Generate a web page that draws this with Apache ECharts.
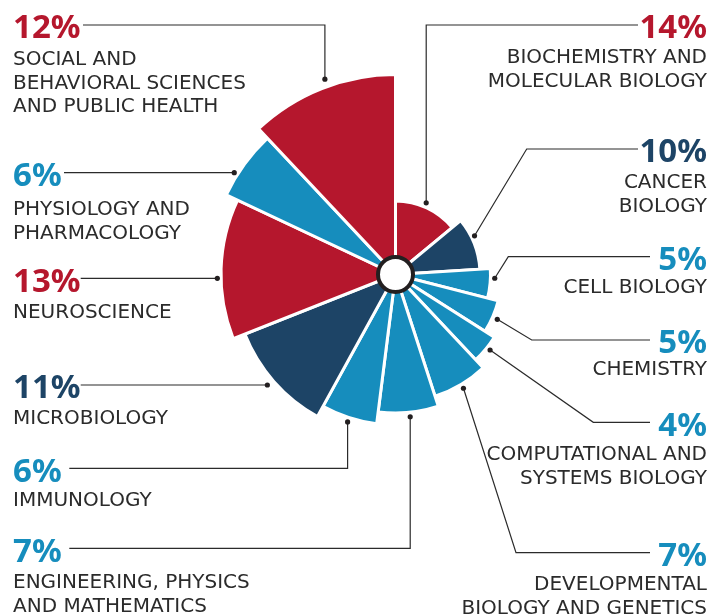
<!DOCTYPE html>
<html>
<head>
<meta charset="utf-8">
<script src="https://cdn.jsdelivr.net/npm/echarts@6/dist/echarts.min.js"></script>
<style>
  html, body { margin: 0; padding: 0; background: #ffffff; }
  #chart { width: 726px; height: 616px; }
</style>
</head>
<body>
<div id="chart"></div>
<script>
// Research areas, listed clockwise from 12 o'clock
const categories = [
  'BIOCHEMISTRY AND\nMOLECULAR BIOLOGY',
  'CANCER\nBIOLOGY',
  'CELL BIOLOGY',
  'CHEMISTRY',
  'COMPUTATIONAL AND\nSYSTEMS BIOLOGY',
  'DEVELOPMENTAL\nBIOLOGY AND GENETICS',
  'ENGINEERING, PHYSICS\nAND MATHEMATICS',
  'IMMUNOLOGY',
  'MICROBIOLOGY',
  'NEUROSCIENCE',
  'PHYSIOLOGY AND\nPHARMACOLOGY',
  'SOCIAL AND\nBEHAVIORAL SCIENCES\nAND PUBLIC HEALTH'
];

// Share of the total in percent: sets the angle of each petal
const shares = [14, 10, 5, 5, 4, 7, 7, 6, 11, 13, 6, 12];

// Petal length on the radial scale
const petalReach = [73.5, 84.5, 95, 106, 117, 128, 138.5, 150.5, 162, 174.5, 187, 200];

// Colour family of each petal
const groups = ['red', 'navy', 'blue', 'blue', 'blue', 'blue', 'blue', 'blue', 'navy', 'red', 'blue', 'red'];

const palette = { red: '#b5172d', navy: '#1d4466', blue: '#168dbd' };
const inkColor = '#2b2b2b';

// Callout layout: side of the page, height of the leader line, where the
// line stops next to the figure, leader shape, and where it meets the petal
const callouts = [
  { side: 'right', lineY: 25,    tailX: 638, kind: 'drop', frac: 0.46, gap: 4.5, capY: 58 },
  { side: 'right', lineY: 149,   tailX: 638, kind: 'bend', elbowX: 526.7, frac: 0.375, gap: 3.5, capY: 183 },
  { side: 'right', lineY: 256.7, tailX: 650, kind: 'bend', elbowX: 508.3, frac: 0.32, gap: 4.3, capY: 288 },
  { side: 'right', lineY: 340,   tailX: 650, kind: 'bend', elbowX: 531.7, frac: 0.52, gap: 5.2, capY: 370 },
  { side: 'right', lineY: 422.3, tailX: 650, kind: 'bend', elbowX: 593.3, frac: 0.43, gap: 4,   capY: 455 },
  { side: 'right', lineY: 552.7, tailX: 650, kind: 'bend', elbowX: 516,   frac: 0.49, gap: 4.5, capY: 585 },
  { side: 'left',  lineY: 548.3, tailX: 69.3, kind: 'drop', frac: 0.48, gap: 4.5, capY: 583 },
  { side: 'left',  lineY: 468.3, tailX: 69.3, kind: 'drop', frac: 0.5,  gap: 4.5, capY: 501 },
  { side: 'left',  lineY: 385,   tailX: 80.7, kind: 'flat', gap: 7.2, capY: 419 },
  { side: 'left',  lineY: 278.3, tailX: 80.7, kind: 'flat', gap: 3.7, capY: 313 },
  { side: 'left',  lineY: 172.7, tailX: 64,   kind: 'flat', gap: 3.7, capY: 210 },
  { side: 'left',  lineY: 25,    tailX: 83,   kind: 'drop', frac: 0.54, gap: 7.7, capY: 60 }
];

// Each petal spans [cumulative start, cumulative end] on the 0–100 angle axis
let running = 0;
const petals = shares.map(function (s, i) {
  const start = running;
  running += s;
  return {
    name: categories[i],
    value: [start, running, petalReach[i]],
    itemStyle: { color: palette[groups[i]] }
  };
});

const chart = echarts.init(document.getElementById('chart'), null, { renderer: 'canvas' });

function screenAngle(cs, p) {
  return Math.atan2(p[1] - cs.cy, p[0] - cs.cx);
}

function renderPetal(params, api) {
  const cs = params.coordSys;
  const a0 = api.value(0), a1 = api.value(1), reach = api.value(2);
  const p0 = api.coord([reach, a0]);
  const p1 = api.coord([reach, a1]);
  const r = Math.hypot(p0[0] - cs.cx, p0[1] - cs.cy);
  const t0 = screenAngle(cs, p0);
  let t1 = screenAngle(cs, p1);
  if (t1 <= t0) t1 += Math.PI * 2;
  return {
    type: 'sector',
    shape: { cx: cs.cx, cy: cs.cy, r0: 0, r: r, startAngle: t0, endAngle: t1, clockwise: true },
    style: { fill: api.visual('color'), stroke: '#ffffff', lineWidth: 3 }
  };
}

function renderHub(params, api) {
  const cs = params.coordSys;
  return {
    type: 'circle',
    shape: { cx: cs.cx, cy: cs.cy, r: 17.5 },
    style: { fill: '#ffffff', stroke: '#231f20', lineWidth: 4 }
  };
}

function renderCallout(params, api) {
  const i = params.dataIndex;
  const c = callouts[i];
  const cs = params.coordSys;
  const a0 = api.value(0), a1 = api.value(1), reach = api.value(2);
  const isLeft = c.side === 'left';
  let dot;
  if (c.kind === 'flat') {
    const edge = api.coord([reach, a0]);
    const R = Math.hypot(edge[0] - cs.cx, edge[1] - cs.cy) + c.gap;
    const dy = c.lineY - cs.cy;
    const dx = Math.sqrt(Math.max(R * R - dy * dy, 0)) * (isLeft ? -1 : 1);
    dot = [cs.cx + dx, c.lineY];
  } else {
    const p = api.coord([reach, a0 + c.frac * (a1 - a0)]);
    const vx = p[0] - cs.cx, vy = p[1] - cs.cy, len = Math.hypot(vx, vy);
    dot = [p[0] + vx / len * c.gap, p[1] + vy / len * c.gap];
  }
  let pts;
  if (c.kind === 'drop') pts = [[c.tailX, c.lineY], [dot[0], c.lineY], dot];
  else if (c.kind === 'bend') pts = [[c.tailX, c.lineY], [c.elbowX, c.lineY], dot];
  else pts = [[c.tailX, c.lineY], dot];

  const tx = isLeft ? 13 : 707;
  const lineH = 23.5;
  return {
    type: 'group',
    children: [
      {
        type: 'polyline',
        shape: { points: pts },
        style: { stroke: inkColor, lineWidth: 1.2, fill: null }
      },
      {
        type: 'circle',
        shape: { cx: dot[0], cy: dot[1], r: 2.6 },
        style: { fill: '#231f20' }
      },
      {
        type: 'text',
        x: tx,
        y: c.lineY + 4,
        style: {
          text: shares[i] + '%',
          fill: palette[groups[i]],
          fontFamily: '"Noto Sans", sans-serif',
          fontWeight: 'bold',
          fontSize: 33,
          align: isLeft ? 'left' : 'right',
          verticalAlign: 'middle'
        }
      },
      {
        type: 'text',
        x: tx,
        y: c.capY - lineH / 2,
        style: {
          text: categories[i],
          fill: inkColor,
          fontFamily: '"DejaVu Sans", sans-serif',
          fontSize: 20,
          lineHeight: lineH,
          align: isLeft ? 'left' : 'right',
          verticalAlign: 'top'
        }
      }
    ]
  };
}

chart.setOption({
  animation: false,
  backgroundColor: '#ffffff',
  polar: { center: [395.5, 274.5], radius: 200 },
  angleAxis: { type: 'value', min: 0, max: 100, startAngle: 90, clockwise: true, show: false },
  radiusAxis: { type: 'value', min: 0, max: 200, show: false },
  series: [
    {
      type: 'custom',
      name: 'petals',
      coordinateSystem: 'polar',
      renderItem: renderPetal,
      data: petals,
      z: 2
    },
    {
      type: 'custom',
      name: 'hub',
      coordinateSystem: 'polar',
      renderItem: renderHub,
      data: [[0, 0]],
      silent: true,
      z: 3
    },
    {
      type: 'custom',
      name: 'callouts',
      coordinateSystem: 'polar',
      renderItem: renderCallout,
      data: petals,
      silent: true,
      z: 4
    }
  ]
});
</script>
</body>
</html>
